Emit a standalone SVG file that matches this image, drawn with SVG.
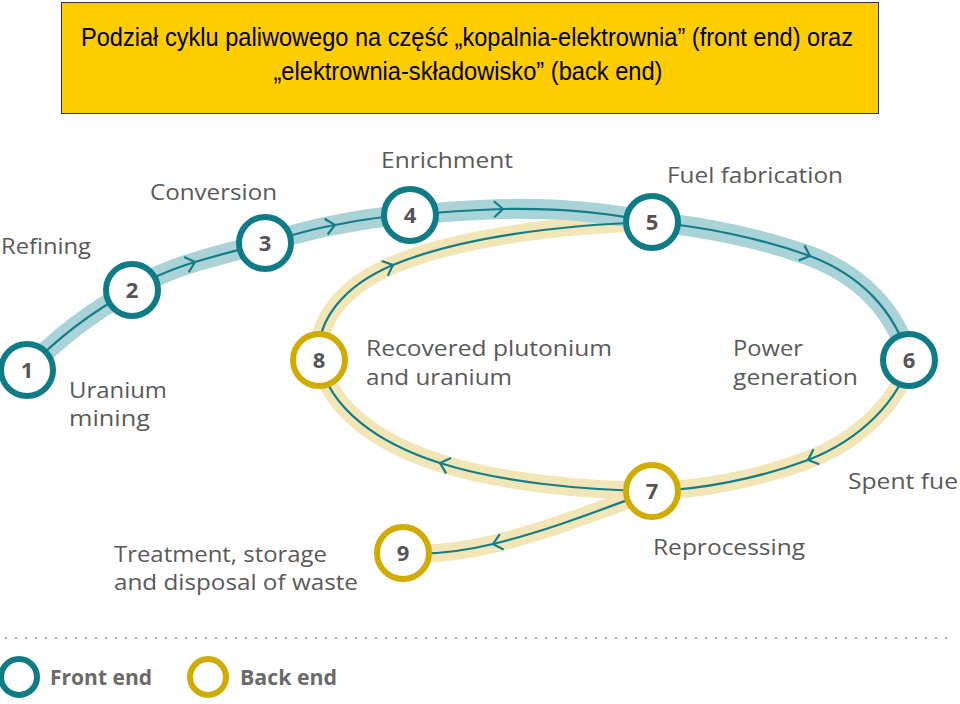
<svg xmlns="http://www.w3.org/2000/svg" width="960" height="704" viewBox="0 0 960 704">
<style>
.lbl{font-family:"Open Sans","Noto Sans","DejaVu Sans",sans-serif;font-size:22px;fill:#595959}
.num{font-family:"Open Sans","Noto Sans","DejaVu Sans",sans-serif;font-size:22px;font-weight:bold;fill:#555;text-anchor:middle}
.leg{font-family:"Open Sans","Noto Sans","DejaVu Sans",sans-serif;font-size:22px;font-weight:bold;fill:#6a6a6a}
.title{font-family:"Liberation Sans",Arial,sans-serif;font-size:25px;fill:#000;text-anchor:middle}
.fe{fill:#fff;stroke:#0f7b86;stroke-width:6}
.be{fill:#fff;stroke:#d1ac00;stroke-width:6}
.band-t{fill:none;stroke:#a9d3d7;stroke-width:20}
.band-y{fill:none;stroke:#f2e6b6;stroke-width:18}
.ln{fill:none;stroke:#147d88;stroke-width:2.2;marker-mid:url(#chev)}
</style>
<defs>
<marker id="chev" markerUnits="userSpaceOnUse" markerWidth="24" markerHeight="24" viewBox="-12 -12 24 24" refX="0" refY="0" orient="auto">
<path d="M-9,-8 L0,0 L-9,8" fill="none" stroke="#147d88" stroke-width="2.2"/>
</marker>
</defs>
<rect width="960" height="704" fill="#fff"/>
<g id="title">
<rect x="61.5" y="2.5" width="817" height="111" fill="#ffcc00" stroke="#333" stroke-width="1"/>
<text class="title" x="467" y="46" textLength="772" lengthAdjust="spacingAndGlyphs">Podział cyklu paliwowego na część „kopalnia-elektrownia” (front end) oraz</text>
<text class="title" x="468" y="80" textLength="389" lengthAdjust="spacingAndGlyphs">„elektrownia-składowisko” (back end)</text>
</g>
<g id="bands">
<path class="band-y" d="M909,360 C900,400 860,440 808,460 C760,478 700,490 652,491 C580,490 500,482 440,463 C380,444 330,410 319,360 C315,320 345,285 393,265 C460,237 560,225 652,222"/>
<path class="band-y" d="M652,491 C600,510 550,530 493,544 C460,552 430,555 403,553"/>
<path class="band-t" d="M27,370 C60,335 95,310 132,290 C150,278 172,269 195,262 C218,255 242,249 265,243 C288,236 312,229 335,225 C360,220 385,216 410,215 C440,212 470,210 503,209 C560,208 610,213 652,222 C700,226 760,238 810,256 C860,275 895,310 909,360"/>
</g>
<g id="connectors">
<path id="c1-2" class="ln" d="M27,370 C60,335 95,310 132,290"/>
<path id="c2-3" class="ln" d="M132,290 C150,278 172,269 195,262 C218,255 242,249 265,243"/>
<path id="c3-4" class="ln" d="M265,243 C288,236 312,229 335,225 C360,220 385,216 410,215"/>
<path id="c4-5" class="ln" d="M410,215 C440,212 470,210 503,209 C560,208 610,213 652,222"/>
<path id="c5-6" class="ln" d="M652,222 C700,226 760,238 810,256 C860,275 895,310 909,360"/>
<path id="c6-7" class="ln" d="M909,360 C900,400 860,440 808,460 C760,478 700,490 652,491"/>
<path id="c7-8" class="ln" d="M652,491 C580,490 500,482 440,463 C380,444 330,410 319,360"/>
<path id="c8-5" class="ln" d="M319,360 C315,320 345,285 393,265 C460,237 560,225 652,222"/>
<path id="c7-9" class="ln" d="M652,491 C600,510 550,530 493,544 C460,552 430,555 403,553"/>
</g>
<g id="n1"><circle class="fe" cx="27" cy="370" r="26"/><text class="num" x="27" y="378">1</text></g>
<g id="n2"><circle class="fe" cx="132" cy="290" r="26"/><text class="num" x="132" y="298">2</text></g>
<g id="n3"><circle class="fe" cx="265" cy="243" r="26"/><text class="num" x="265" y="251">3</text></g>
<g id="n4"><circle class="fe" cx="410" cy="215" r="26"/><text class="num" x="410" y="223">4</text></g>
<g id="n5"><circle class="fe" cx="652" cy="222" r="26"/><text class="num" x="652" y="230">5</text></g>
<g id="n6"><circle class="fe" cx="909" cy="360" r="26"/><text class="num" x="909" y="368">6</text></g>
<g id="n7"><circle class="be" cx="652" cy="491" r="26"/><text class="num" x="652" y="499">7</text></g>
<g id="n8"><circle class="be" cx="319" cy="360" r="26"/><text class="num" x="319" y="368">8</text></g>
<g id="n9"><circle class="be" cx="403" cy="553" r="26"/><text class="num" x="403" y="561">9</text></g>
<g id="labels">
<text class="lbl" x="1" y="254" textLength="90" lengthAdjust="spacingAndGlyphs">Refining</text>
<text class="lbl" x="150" y="200" textLength="127" lengthAdjust="spacingAndGlyphs">Conversion</text>
<text class="lbl" x="381" y="168" textLength="132" lengthAdjust="spacingAndGlyphs">Enrichment</text>
<text class="lbl" x="667" y="183" textLength="176" lengthAdjust="spacingAndGlyphs">Fuel fabrication</text>
<text class="lbl" x="69" y="398" textLength="98" lengthAdjust="spacingAndGlyphs">Uranium</text>
<text class="lbl" x="69" y="426" textLength="81" lengthAdjust="spacingAndGlyphs">mining</text>
<text class="lbl" x="366" y="356" textLength="246" lengthAdjust="spacingAndGlyphs">Recovered plutonium</text>
<text class="lbl" x="366" y="385" textLength="146" lengthAdjust="spacingAndGlyphs">and uranium</text>
<text class="lbl" x="733" y="356" textLength="70" lengthAdjust="spacingAndGlyphs">Power</text>
<text class="lbl" x="733" y="385" textLength="125" lengthAdjust="spacingAndGlyphs">generation</text>
<text class="lbl" x="848" y="489" textLength="110" lengthAdjust="spacingAndGlyphs">Spent fue</text>
<text class="lbl" x="653" y="555" textLength="152" lengthAdjust="spacingAndGlyphs">Reprocessing</text>
<text class="lbl" x="114" y="562" textLength="213" lengthAdjust="spacingAndGlyphs">Treatment, storage</text>
<text class="lbl" x="114" y="590" textLength="244" lengthAdjust="spacingAndGlyphs">and disposal of waste</text>
</g>
<g id="legend">
<line x1="5" y1="638" x2="955" y2="638" stroke="#a8a8a8" stroke-width="2" stroke-dasharray="2 8"/>
<circle class="fe" cx="19" cy="677" r="18"/>
<text class="leg" x="50" y="685" textLength="102" lengthAdjust="spacingAndGlyphs">Front end</text>
<circle class="be" cx="208" cy="677" r="18"/>
<text class="leg" x="240" y="685" textLength="97" lengthAdjust="spacingAndGlyphs">Back end</text>
</g>
</svg>
